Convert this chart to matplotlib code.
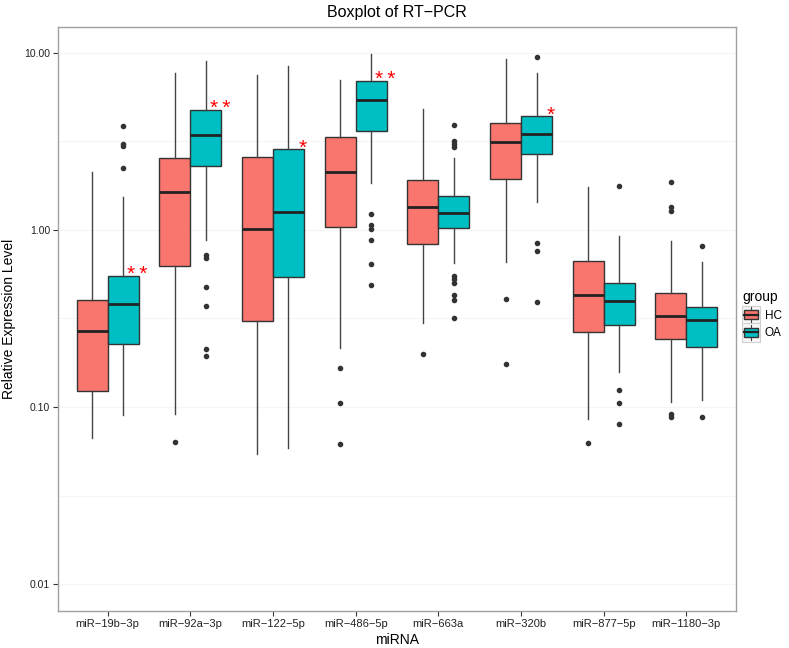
import matplotlib
matplotlib.use('Agg')
import matplotlib.pyplot as plt
from matplotlib.legend_handler import HandlerBase
from matplotlib.patches import Rectangle, Patch
from matplotlib.lines import Line2D

plt.rcParams['font.family'] = ['Liberation Sans', 'DejaVu Sans']

M = '\u2212'
mirna = ['miR-19b-3p', 'miR-92a-3p', 'miR-122-5p', 'miR-486-5p',
         'miR-663a', 'miR-320b', 'miR-877-5p', 'miR-1180-3p']

# HC group (whisker low, q1, median, q3, whisker high, outliers)
hc_lo = [0.067, 0.0916, 0.054, 0.216, 0.30, 0.66, 0.086, 0.107]
hc_q1 = [0.123, 0.627, 0.307, 1.04, 0.83, 1.95, 0.267, 0.242]
hc_med = [0.27, 1.64, 1.01, 2.13, 1.34, 3.14, 0.43, 0.327]
hc_q3 = [0.40, 2.54, 2.59, 3.36, 1.91, 4.0, 0.67, 0.44]
hc_hi = [2.12, 7.7, 7.5, 7.0, 4.85, 9.2, 1.75, 0.867]
hc_out = [[], [0.0633], [], [0.166, 0.106, 0.0617], [0.20], [0.41, 0.175],
          [0.063], [1.87, 1.34, 1.28, 0.091, 0.088]]

# OA group
oa_lo = [0.09, 0.88, 0.059, 1.84, 0.65, 1.44, 0.157, 0.11]
oa_q1 = [0.228, 2.29, 0.539, 3.61, 1.03, 2.68, 0.29, 0.218]
oa_med = [0.38, 3.43, 1.26, 5.4, 1.24, 3.5, 0.395, 0.31]
oa_q3 = [0.55, 4.74, 2.85, 6.94, 1.56, 4.39, 0.50, 0.367]
oa_hi = [1.53, 8.96, 8.4, 9.8, 2.54, 7.73, 0.925, 0.66]
oa_out = [[3.87, 3.06, 2.98, 2.23], [0.72, 0.69, 0.475, 0.373, 0.213, 0.195], [],
          [1.23, 1.06, 1.01, 0.88, 0.64, 0.486],
          [3.89, 3.17, 3.04, 2.96, 0.553, 0.527, 0.50, 0.43, 0.40, 0.32],
          [9.47, 0.84, 0.76, 0.39], [1.77, 0.124, 0.105, 0.08], [0.81, 0.088]]

signif = ['**', '**', '*', '**', '', '*', '', '']

groups = ['HC', 'OA']
colors = {'HC': '#F8766D', 'OA': '#00BFC4'}


def make_stats(lo, q1, med, q3, hi, out):
    return [dict(whislo=lo[i], q1=q1[i], med=med[i], q3=q3[i], whishi=hi[i], fliers=out[i])
            for i in range(len(lo))]


fig = plt.figure(figsize=(7.89, 6.48), dpi=100)
ax = fig.add_axes([58 / 789, 1 - 611 / 648, 678 / 789, 584 / 648])

ax.set_yscale('log')
ax.set_ylim(0.00705, 14.0)
ax.set_xlim(-0.6, 7.6)

# faint horizontal grid
for k in range(-3, 2):
    for v in (10.0 ** k, 10.0 ** (k + 0.5)):
        ax.axhline(v, color='#f5f5f5', lw=0.8, zorder=0)

w = 0.375
all_stats = {
    'HC': make_stats(hc_lo, hc_q1, hc_med, hc_q3, hc_hi, hc_out),
    'OA': make_stats(oa_lo, oa_q1, oa_med, oa_q3, oa_hi, oa_out),
}
for j, g in enumerate(groups):
    pos = [i + (j - 0.5) * w for i in range(len(mirna))]
    ax.bxp(all_stats[g], positions=pos, widths=w, patch_artist=True,
           showcaps=False, manage_ticks=False,
           boxprops=dict(facecolor=colors[g], edgecolor='#333333', lw=1.0),
           medianprops=dict(color='#222222', lw=2.0),
           whiskerprops=dict(color='#444444', lw=1.0),
           flierprops=dict(marker='o', markersize=3.0, markerfacecolor='#333333',
                           markeredgecolor='#333333'))

# significance marks above OA boxes
for i, s in enumerate(signif):
    if s:
        ax.annotate('\u2009'.join(s), (i + w / 2 + 0.17, oa_q3[i]), xytext=(0, -3),
                    textcoords='offset points', ha='center', va='baseline',
                    color='#ff0000', fontsize=15)

ax.set_xticks(range(len(mirna)))
ax.set_xticklabels([m.replace('-', M) for m in mirna], fontsize=8, color='#222222')
ax.set_yticks([0.01, 0.1, 1, 10])
ax.set_yticklabels(['0.01', '0.10', '1.00', '10.00'], fontsize=7.5, color='#222222')
ax.yaxis.set_minor_locator(matplotlib.ticker.NullLocator())
ax.tick_params(length=3.5, width=0.8, color='#333333', pad=2)

for sp in ax.spines.values():
    sp.set_color('#a0a0a0')
    sp.set_linewidth(1.0)

ax.set_xlabel('miRNA', fontsize=10, labelpad=3)
ax.set_ylabel('Relative Expression Level', fontsize=10, labelpad=6)
ax.set_title('Boxplot of RT' + M + 'PCR', fontsize=11.5, pad=7)


class BoxHandler(HandlerBase):
    def create_artists(self, legend, orig_handle, xdescent, ydescent,
                       width, height, fontsize, trans):
        fc = orig_handle.get_facecolor()
        cx = width / 2 - xdescent
        s = min(width, height) * 1.3
        x0 = cx - s / 2
        y0 = height / 2 - ydescent - s / 2
        frame = Rectangle((x0, y0), s, s, facecolor='#f7f7f7',
                          edgecolor='#d0d0d0', lw=0.8, transform=trans)
        wh = Line2D([cx, cx], [y0 + 0.08 * s, y0 + 0.92 * s], color='#444444',
                    lw=0.8, transform=trans)
        box = Rectangle((x0 + 0.1 * s, y0 + 0.25 * s), 0.8 * s, 0.5 * s,
                        facecolor=fc, edgecolor='#333333', lw=1.0, transform=trans)
        med = Line2D([x0 + 0.1 * s, x0 + 0.9 * s], [y0 + 0.5 * s] * 2,
                     color='#222222', lw=1.6, transform=trans)
        return [frame, wh, box, med]


handles = [Patch(facecolor=colors[g]) for g in groups]
leg = fig.legend(handles, groups, title='group', loc='upper left',
                 bbox_to_anchor=(740 / 789, 1 - 288 / 648), frameon=False,
                 fontsize=8.5, title_fontsize=10, handler_map={Patch: BoxHandler()},
                 handlelength=1.45, handleheight=1.45, handletextpad=0.45,
                 labelspacing=0.3, borderpad=0.2, borderaxespad=0)
leg._legend_box.align = 'left'

fig.savefig('out.png', dpi=100)
